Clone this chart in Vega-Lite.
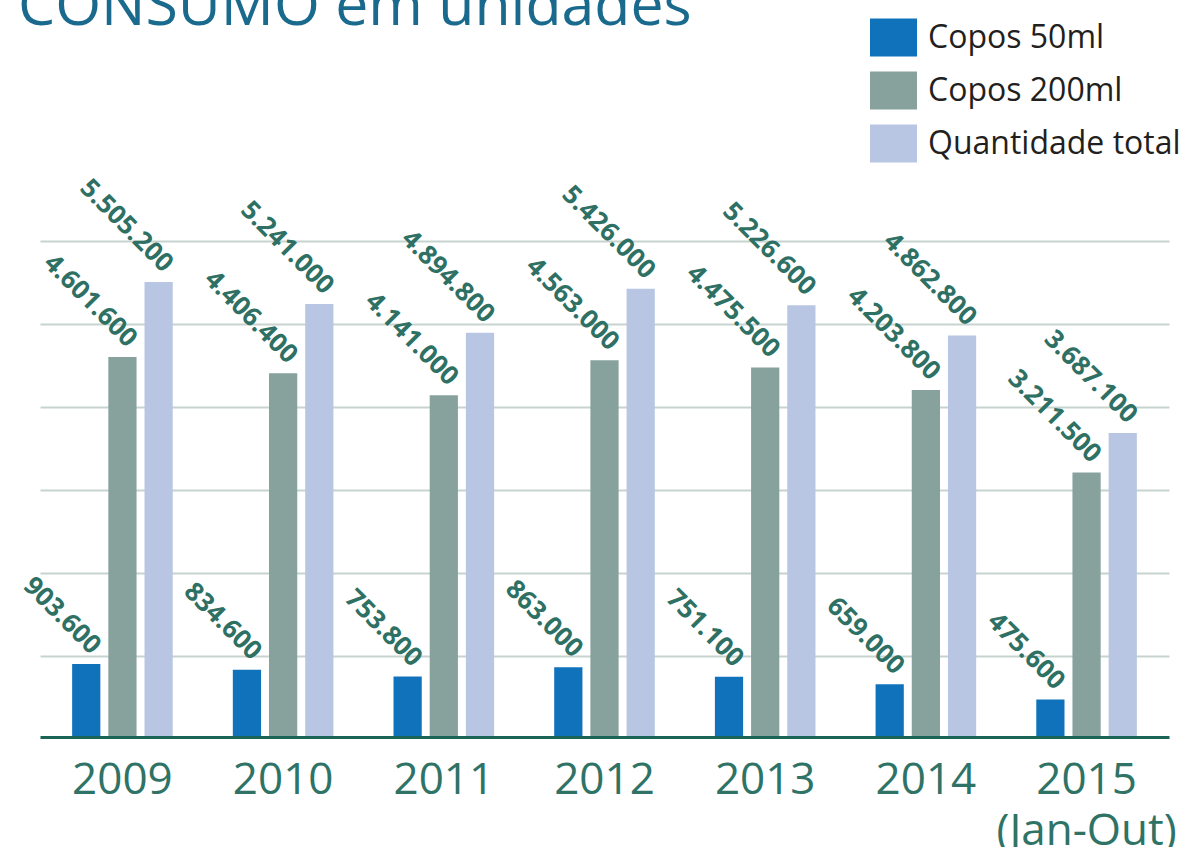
{
  "$schema": "https://vega.github.io/schema/vega-lite/v6.json",
  "width": 1129,
  "height": 498,
  "autosize": {"type": "none"},
  "padding": {"left": 40, "top": 241, "right": 18, "bottom": 108},
  "background": "white",
  "title": {
    "text": "CONSUMO em unidades",
    "anchor": "start",
    "frame": "group",
    "orient": "top",
    "font": "Open Sans",
    "fontSize": 59,
    "fontWeight": "normal",
    "color": "#1a6a8e",
    "baseline": "alphabetic",
    "dx": -22,
    "dy": 70,
    "offset": 0
  },
  "config": {
    "locale": {"number": {"decimal": ",", "thousands": ".", "grouping": [3], "currency": ["R$", ""]}},
    "view": {"stroke": null}
  },
  "data": {
    "values": [
      {"ano": "2009", "tipo": "Copos 50ml", "valor": 903600},
      {"ano": "2009", "tipo": "Copos 200ml", "valor": 4601600},
      {"ano": "2009", "tipo": "Quantidade total", "valor": 5505200},
      {"ano": "2010", "tipo": "Copos 50ml", "valor": 834600},
      {"ano": "2010", "tipo": "Copos 200ml", "valor": 4406400},
      {"ano": "2010", "tipo": "Quantidade total", "valor": 5241000},
      {"ano": "2011", "tipo": "Copos 50ml", "valor": 753800},
      {"ano": "2011", "tipo": "Copos 200ml", "valor": 4141000},
      {"ano": "2011", "tipo": "Quantidade total", "valor": 4894800},
      {"ano": "2012", "tipo": "Copos 50ml", "valor": 863000},
      {"ano": "2012", "tipo": "Copos 200ml", "valor": 4563000},
      {"ano": "2012", "tipo": "Quantidade total", "valor": 5426000},
      {"ano": "2013", "tipo": "Copos 50ml", "valor": 751100},
      {"ano": "2013", "tipo": "Copos 200ml", "valor": 4475500},
      {"ano": "2013", "tipo": "Quantidade total", "valor": 5226600},
      {"ano": "2014", "tipo": "Copos 50ml", "valor": 659000},
      {"ano": "2014", "tipo": "Copos 200ml", "valor": 4203800},
      {"ano": "2014", "tipo": "Quantidade total", "valor": 4862800},
      {"ano": "2015 (Jan-Out)", "tipo": "Copos 50ml", "valor": 475600},
      {"ano": "2015 (Jan-Out)", "tipo": "Copos 200ml", "valor": 3211500},
      {"ano": "2015 (Jan-Out)", "tipo": "Quantidade total", "valor": 3687100}
    ]
  },
  "encoding": {
    "x": {
      "field": "ano",
      "type": "nominal",
      "scale": {"paddingInner": 0.374},
      "axis": {
        "title": null,
        "labelAngle": 0,
        "labelFont": "Open Sans",
        "labelFontSize": 44,
        "labelColor": "#2e7366",
        "labelLimit": 500,
        "ticks": false,
        "domainColor": "#1b6457",
        "domainWidth": 3,
        "labelPadding": 21,
        "labelExpr": "split(datum.label, ' ')",
        "labelLineHeight": 51,
        "labelOverlap": false,
        "labelBound": false,
        "labelFlush": false,
        "offset": -2,
        "zindex": 1
      }
    },
    "y": {
      "field": "valor",
      "type": "quantitative",
      "scale": {"domain": [0, 6000000], "nice": false},
      "axis": {
        "title": null,
        "labels": false,
        "ticks": false,
        "domain": false,
        "grid": true,
        "gridColor": "#c7d3cf",
        "gridWidth": 2,
        "values": [1000000, 2000000, 3000000, 4000000, 5000000, 6000000]
      }
    },
    "xOffset": {
      "field": "tipo",
      "type": "nominal",
      "sort": ["Copos 50ml", "Copos 200ml", "Quantidade total"],
      "scale": {"paddingInner": 0.22, "paddingOuter": 0}
    }
  },
  "layer": [
    {
      "mark": {"type": "bar"},
      "encoding": {
        "color": {
          "field": "tipo",
          "type": "nominal",
          "scale": {
            "domain": ["Copos 50ml", "Copos 200ml", "Quantidade total"],
            "range": ["#1172bc", "#87a29d", "#b8c6e4"]
          },
          "legend": {
            "orient": "none",
            "legendX": 830,
            "legendY": -227,
            "title": null,
            "symbolType": "M-1,-0.81H1V0.81H-1Z",
            "symbolSize": 2209,
            "symbolStrokeWidth": 0,
            "symbolOpacity": 1,
            "labelFont": "Open Sans",
            "labelFontSize": 32,
            "labelColor": "#231f20",
            "labelOffset": 11,
            "labelLimit": 400,
            "rowPadding": 10,
            "padding": 0
          }
        }
      }
    },
    {
      "mark": {
        "type": "text",
        "angle": 45,
        "align": "right",
        "baseline": "alphabetic",
        "dx": -3,
        "dy": -9,
        "font": "Open Sans",
        "fontSize": 26,
        "fontWeight": 700,
        "color": "#2e7063"
      },
      "encoding": {
        "text": {"field": "valor", "type": "quantitative", "format": ",d"}
      }
    }
  ]
}
